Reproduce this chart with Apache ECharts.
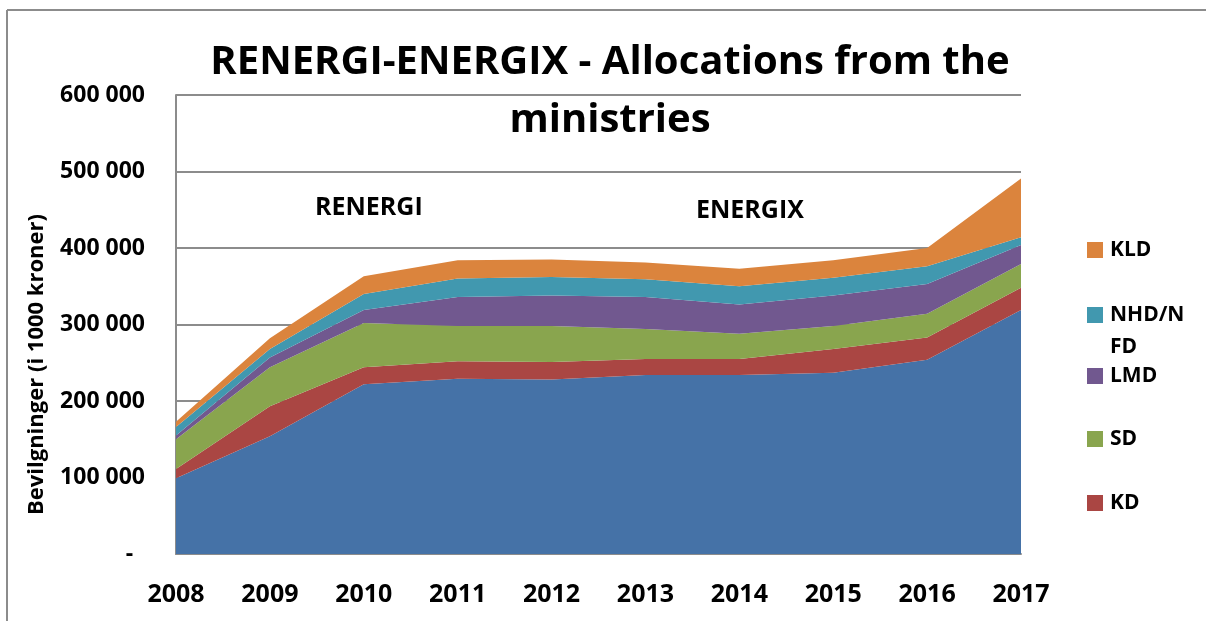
<!DOCTYPE html>
<html>
<head>
<meta charset="utf-8">
<script src="https://cdn.jsdelivr.net/npm/echarts@6/dist/echarts.min.js"></script>
<style>
  html, body { margin: 0; padding: 0; background: #fff; }
  #chart { width: 1206px; height: 621px; }
</style>
</head>
<body>
<div id="chart"></div>
<script>
// years on the x axis
var years = ['2008', '2009', '2010', '2011', '2012', '2013', '2014', '2015', '2016', '2017'];

// allocations per ministry (1000 kroner), stacked bottom -> top
var oed = [99000, 154000, 222000, 229000, 228000, 234000, 234000, 237000, 254000, 319000];
var kd  = [12000, 39000, 22000, 23000, 23000, 21000, 21000, 31000, 29000, 29000];
var sd  = [39000, 51000, 58000, 46000, 47000, 39000, 33000, 30000, 31000, 31000];
var lmd = [5000, 13000, 17000, 38000, 40000, 42000, 38000, 40000, 39000, 25000];
var nhd = [11000, 11000, 21000, 24000, 24000, 23000, 24000, 23000, 23000, 10000];
var kld = [7000, 14000, 23000, 24000, 23000, 22000, 23000, 23000, 24000, 77000];

var seriesNames = ['OED', 'KD', 'SD', 'LMD', 'NHD/NFD', 'KLD'];
var seriesData = [oed, kd, sd, lmd, nhd, kld];
var colors = ['#4572A7', '#AA4643', '#89A54E', '#71588F', '#4198AF', '#DB843D'];

var FONT = '"Open Sans", "Liberation Sans", sans-serif';

function fmtThousands(v) {
    if (v === 0) return '-  ';
    return String(v).replace(/\B(?=(\d{3})+(?!\d))/g, ' ');
}

// legend entries (top to bottom) and the y centre of each icon
var legendNames = ['KLD', 'NHD/NFD', 'LMD', 'SD', 'KD'];
var legendCentres = [250, 315, 376, 439, 503];

var chart = echarts.init(document.getElementById('chart'));

var series = seriesNames.map(function (name, i) {
    return {
        name: name,
        type: 'line',
        stack: 'total',
        data: seriesData[i],
        showSymbol: false,
        symbol: 'none',
        lineStyle: { width: 0 },
        areaStyle: { color: colors[i], opacity: 1 },
        itemStyle: { color: colors[i] },
        emphasis: { disabled: true }
    };
});

var legends = legendNames.map(function (name, i) {
    var multi = name === 'NHD/NFD';
    return {
        orient: 'vertical',
        left: 1087,
        top: multi ? legendCentres[i] - 48 : legendCentres[i] - 13,
        padding: 0,
        itemWidth: 16,
        itemHeight: 16,
        itemGap: 10,
        icon: 'rect',
        selectedMode: false,
        data: [name],
        formatter: function (n) {
            return n === 'NHD/NFD' ? ' \nNHD/N\nFD' : n;
        },
        textStyle: {
            fontFamily: FONT,
            fontWeight: 'bold',
            fontSize: 21,
            color: '#000',
            lineHeight: multi ? 32 : 26,
            padding: [0, 0, 0, 2]
        }
    };
});

var option = {
    animation: false,
    color: colors,
    title: {
        text: 'RENERGI-ENERGIX - Allocations from the\nministries',
        left: 610,
        textAlign: 'center',
        top: 34,
        padding: 0,
        textStyle: {
            fontFamily: FONT,
            fontWeight: 'bold',
            fontSize: 40,
            lineHeight: 58,
            color: '#000'
        }
    },
    legend: legends,
    grid: { left: 176, right: 185, top: 95, bottom: 67, containLabel: false },
    xAxis: {
        type: 'category',
        data: years,
        boundaryGap: false,
        axisTick: { show: false },
        axisLine: { lineStyle: { color: '#8c8c8c', width: 2 } },
        axisLabel: {
            margin: 28,
            fontFamily: FONT,
            fontWeight: 'bold',
            fontSize: 25,
            color: '#000'
        },
        splitLine: { show: false }
    },
    yAxis: {
        type: 'value',
        min: 0,
        max: 600000,
        interval: 100000,
        name: 'Bevilgninger (i 1000 kroner)',
        nameLocation: 'middle',
        nameGap: 128,
        nameTextStyle: {
            fontFamily: FONT,
            fontWeight: 'bold',
            fontSize: 22,
            color: '#000',
            padding: [0, 80, 0, 0]
        },
        axisLine: { show: true, lineStyle: { color: '#8c8c8c', width: 2 } },
        axisTick: { show: false },
        axisLabel: {
            margin: 31,
            fontFamily: FONT,
            fontWeight: 'bold',
            fontSize: 23,
            color: '#000',
            formatter: fmtThousands
        },
        splitLine: { show: true, lineStyle: { color: '#8c8c8c', width: 2 } }
    },
    graphic: [
        // outer frame (top and left edges only are visible)
        { type: 'line', shape: { x1: 7, y1: 10, x2: 1206, y2: 10 }, style: { stroke: '#8c8c8c', lineWidth: 2 }, silent: true },
        { type: 'line', shape: { x1: 7, y1: 10, x2: 7, y2: 621 }, style: { stroke: '#8c8c8c', lineWidth: 2 }, silent: true },
        {
            type: 'text', left: 370 - 55, top: 195, silent: true, z: 10,
            style: { text: 'RENERGI', fill: '#000', font: 'bold 25px ' + FONT }
        },
        {
            type: 'text', left: 753 - 57, top: 198, silent: true, z: 10,
            style: { text: 'ENERGIX', fill: '#000', font: 'bold 25px ' + FONT }
        }
    ],
    series: series
};

chart.setOption(option);
</script>
</body>
</html>
